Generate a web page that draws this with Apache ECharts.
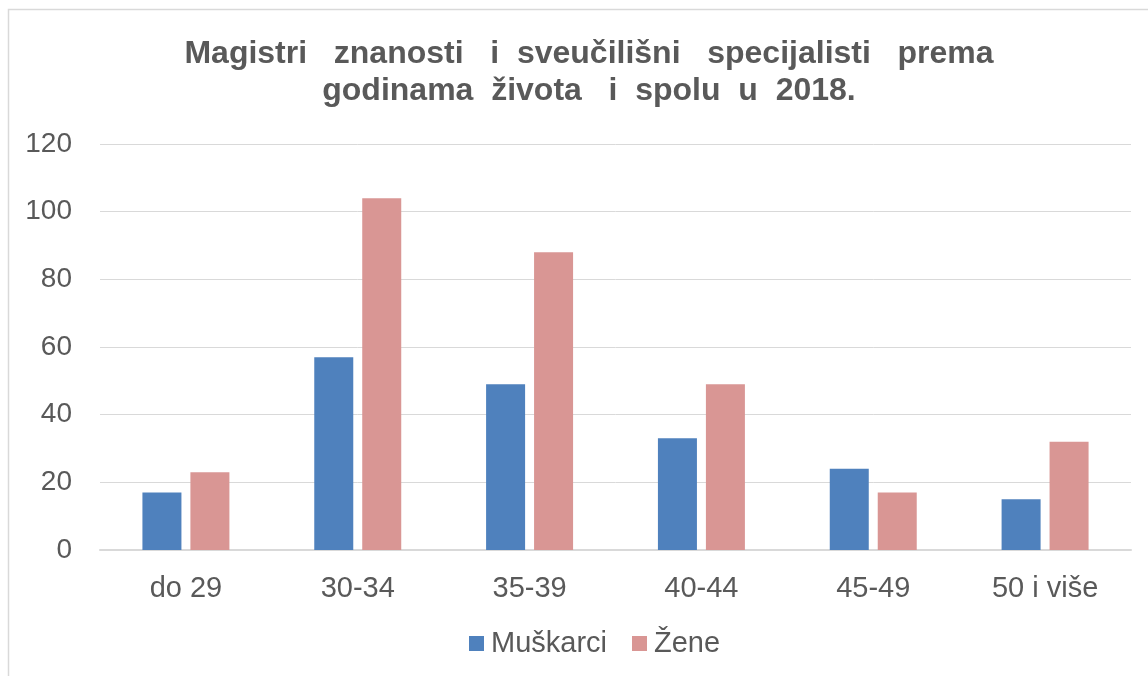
<!DOCTYPE html>
<html>
<head>
<meta charset="utf-8">
<script src="https://cdn.jsdelivr.net/npm/echarts@6/dist/echarts.min.js"></script>
<style>
  html, body { margin: 0; padding: 0; background: #fff; }
  #chart { width: 1148px; height: 676px; }
</style>
</head>
<body>
<div id="chart"></div>
<script>
// dobne skupine
var categories = ['do 29', '30-34', '35-39', '40-44', '45-49', '50 i više'];
var muskarci = [17, 57, 49, 33, 24, 15];
var zene = [23, 104, 88, 49, 17, 32];
var yTicks = { min: 0, max: 120, interval: 20 };

var chart = echarts.init(document.getElementById('chart'));
var textColor = '#595959';
var font = '"Liberation Sans", Arial, sans-serif';

var option = {
  animation: false,
  backgroundColor: '#fff',
  textStyle: { fontFamily: font },
  graphic: [{
    type: 'rect',
    shape: { x: 8.5, y: 9.5, width: 1200, height: 700 },
    style: { fill: 'none', stroke: '#d9d9d9', lineWidth: 1.5 },
    silent: true
  }],
  title: {
    text: 'Magistri   znanosti   i  sveučilišni   specijalisti   prema\ngodinama  života   i  spolu  u  2018.',
    left: 584,
    top: 31,
    textAlign: 'center',
    textStyle: {
      fontFamily: font,
      fontSize: 32,
      fontWeight: 'bold',
      color: textColor,
      lineHeight: 37
    }
  },
  legend: {
    data: ['Muškarci', 'Žene'],
    top: 624,
    left: 464,
    itemWidth: 15,
    itemHeight: 15,
    itemGap: 25,
    icon: 'rect',
    textStyle: { fontSize: 29, color: textColor, fontFamily: font, padding: [0, 0, 0, 2] }
  },
  grid: {
    left: 100,
    right: 17,
    top: 144,
    bottom: 126,
    containLabel: false
  },
  xAxis: {
    type: 'category',
    data: categories,
    axisLine: { lineStyle: { color: '#d9d9d9', width: 2 } },
    axisTick: { show: false },
    axisLabel: { fontSize: 29, color: textColor, margin: 24, fontFamily: font }
  },
  yAxis: {
    type: 'value',
    min: yTicks.min,
    max: yTicks.max,
    interval: yTicks.interval,
    axisLine: { show: false },
    axisTick: { show: false },
    splitLine: { lineStyle: { color: '#d9d9d9', width: 1 } },
    axisLabel: { fontSize: 28, color: textColor, margin: 28, fontFamily: font }
  },
  series: [
    {
      name: 'Muškarci',
      type: 'bar',
      data: muskarci,
      barWidth: '22.7%',
      barGap: '23%',
      itemStyle: { color: '#4f81bd' }
    },
    {
      name: 'Žene',
      type: 'bar',
      data: zene,
      barWidth: '22.7%',
      barGap: '23%',
      itemStyle: { color: '#d99694' }
    }
  ]
};

chart.setOption(option);
</script>
</body>
</html>
